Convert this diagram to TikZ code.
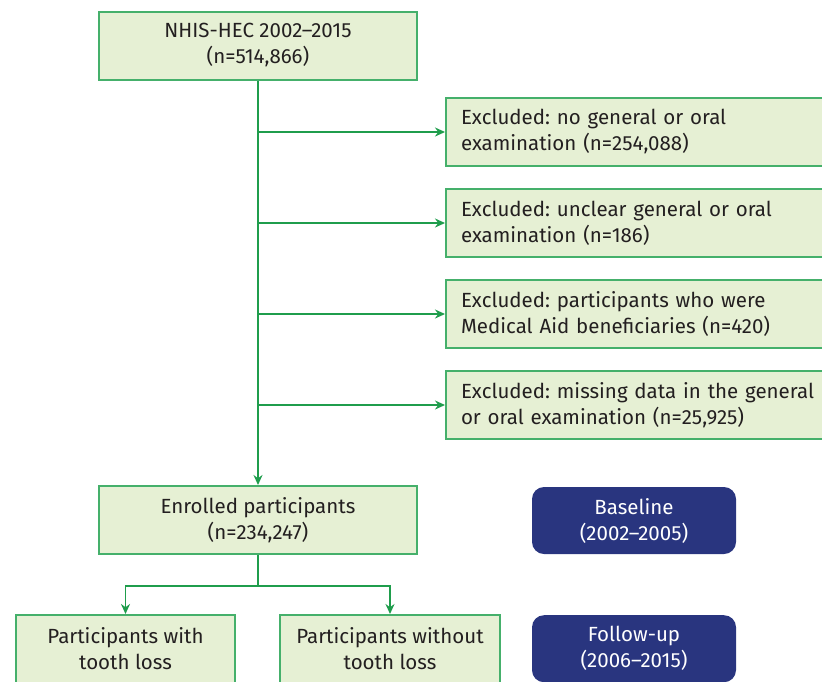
\documentclass[tikz,border=0pt]{standalone}
\usepackage{fontspec}
\setmainfont{Fira Sans}
\usetikzlibrary{arrows.meta, positioning}
\definecolor{boxfill}{HTML}{E6F0D4}
\definecolor{boxline}{HTML}{45B06B}
\definecolor{flowline}{HTML}{1F9D4C}
\definecolor{navy}{HTML}{29357F}
\definecolor{ink}{HTML}{231F20}
\frenchspacing

\begin{document}
\begin{tikzpicture}[x=1pt, y=-1pt,
    every node/.style={font=\fontsize{20.5}{26}\selectfont, text=ink},
    greenbox/.style={draw=boxline, fill=boxfill, line width=2pt, minimum height=68pt, inner sep=0pt, align=center},
    exbox/.style={greenbox, anchor=west, text width=385pt, inner xsep=15pt, align=left},
    stagebox/.style={fill=navy, text=white, rounded corners=12pt, minimum width=204pt, minimum height=67pt, inner sep=0pt, align=center},
    flow/.style={draw=flowline, line width=1.6pt},
    arr/.style={flow, -{Stealth[length=10pt, width=9pt]}}]

            \clip (0,0) rectangle (822,681);

            \node[greenbox, minimum width=318pt] (nhis) at (258,45.5) {NHIS-HEC 2002–2015\\(n=514,866)};

            \node[exbox] (ex1) at (445,132) {Excluded: no general or oral\\examination (n=254,088)};
            \node[exbox] (ex2) at (445,223) {Excluded: unclear general or oral\\examination (n=186)};
            \node[exbox] (ex3) at (445,314) {Excluded: participants who were\\Medical Aid beneficiaries (n=420)};
            \node[exbox] (ex4) at (445,405) {Excluded: missing data in the general\\or oral examination (n=25,925)};

            \node[greenbox, minimum width=318pt] (enrolled) at (258,520) {Enrolled participants\\(n=234,247)};
            \node[stagebox] (baseline) at (634,520.5) {Baseline\\(2002–2005)};

            \node[greenbox, minimum width=219pt, anchor=north] (withloss) at (125.5,614) {Participants with\\tooth loss};
            \node[greenbox, minimum width=220pt, anchor=north] (noloss) at (390,614) {Participants without\\tooth loss};
            \node[stagebox, anchor=north] (followup) at (634,615) {Follow-up\\(2006–2015)};

            \draw[arr] (nhis.south) -- (enrolled.north);
            \foreach \ex in {ex1, ex2, ex3, ex4}
                \draw[arr] (nhis.south |- \ex.west) -- (\ex.west);

            \draw[flow] (enrolled.south) -- ++(0,31) coordinate (split);
            \draw[arr] (split) -| (withloss.north);
            \draw[arr] (split) -| (noloss.north);

        \end{tikzpicture}
\end{document}
